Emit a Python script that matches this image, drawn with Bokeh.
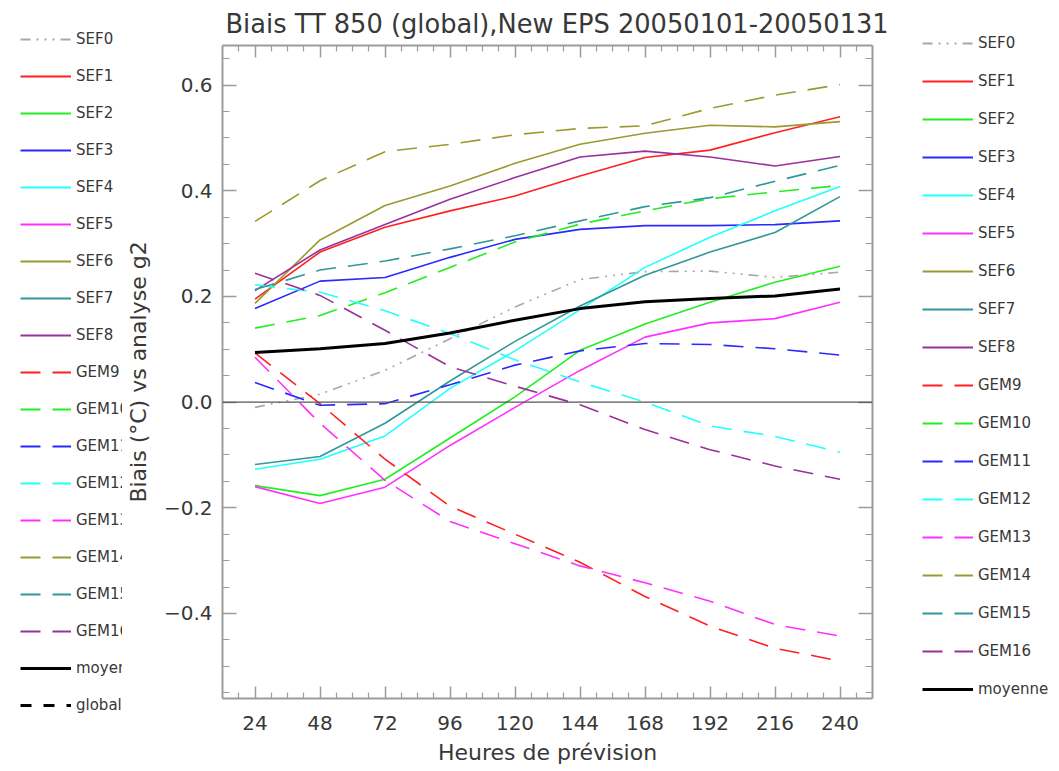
from bokeh.plotting import figure
from bokeh.layouts import row
from bokeh.models import (Range1d, LinearAxis, FixedTicker, Span, Legend, LegendItem,
                          CustomJSTickFormatter)
from bokeh.embed import file_html
from bokeh.resources import INLINE

# ---------------- data ----------------
hours = [24, 48, 72, 96, 120, 144, 168, 192, 216, 240]

sef0 = [-0.010, 0.015, 0.060, 0.120, 0.180, 0.232, 0.247, 0.248, 0.236, 0.246]
sef1 = [0.195, 0.284, 0.331, 0.362, 0.390, 0.428, 0.463, 0.477, 0.510, 0.540]
sef2 = [-0.158, -0.177, -0.146, -0.068, 0.010, 0.098, 0.148, 0.189, 0.227, 0.257]
sef3 = [0.177, 0.229, 0.236, 0.274, 0.308, 0.327, 0.334, 0.334, 0.336, 0.343]
sef4 = [-0.127, -0.108, -0.064, 0.026, 0.097, 0.175, 0.255, 0.312, 0.362, 0.408]
sef5 = [-0.160, -0.192, -0.161, -0.082, -0.010, 0.060, 0.123, 0.150, 0.158, 0.189]
sef6 = [0.187, 0.307, 0.372, 0.409, 0.452, 0.488, 0.509, 0.524, 0.521, 0.531]
sef7 = [-0.118, -0.103, -0.040, 0.040, 0.115, 0.182, 0.240, 0.284, 0.321, 0.389]
sef8 = [0.211, 0.288, 0.336, 0.384, 0.425, 0.464, 0.475, 0.464, 0.447, 0.465]
gem9 = [0.093, -0.003, -0.108, -0.197, -0.250, -0.303, -0.368, -0.424, -0.466, -0.490]
gem10 = [0.140, 0.164, 0.207, 0.255, 0.303, 0.337, 0.362, 0.385, 0.398, 0.410]
gem11 = [0.037, -0.006, -0.003, 0.033, 0.070, 0.097, 0.111, 0.109, 0.101, 0.089]
gem12 = [0.222, 0.208, 0.173, 0.130, 0.080, 0.038, 0.000, -0.045, -0.065, -0.095]
gem13 = [0.085, -0.040, -0.148, -0.226, -0.268, -0.310, -0.342, -0.377, -0.421, -0.443]
gem14 = [0.342, 0.419, 0.474, 0.488, 0.506, 0.518, 0.523, 0.556, 0.581, 0.601]
gem15 = [0.213, 0.250, 0.267, 0.290, 0.315, 0.343, 0.370, 0.387, 0.418, 0.448]
gem16 = [0.244, 0.202, 0.136, 0.067, 0.030, -0.005, -0.052, -0.090, -0.121, -0.146]
moyenne = [0.094, 0.101, 0.111, 0.131, 0.155, 0.177, 0.190, 0.196, 0.201, 0.214]

names = ["SEF0", "SEF1", "SEF2", "SEF3", "SEF4", "SEF5", "SEF6", "SEF7", "SEF8",
         "GEM9", "GEM10", "GEM11", "GEM12", "GEM13", "GEM14", "GEM15", "GEM16", "moyenne"]
values = [sef0, sef1, sef2, sef3, sef4, sef5, sef6, sef7, sef8,
          gem9, gem10, gem11, gem12, gem13, gem14, gem15, gem16, moyenne]

y_ticks = [-0.4, -0.2, 0.0, 0.2, 0.4, 0.6]
y_tick_labels = ["\u22120.4", "\u22120.2", "0.0", "0.2", "0.4", "0.6"]
y_minor = [-0.55, -0.5, -0.45, -0.35, -0.3, -0.25, -0.15, -0.1, -0.05, 0.05, 0.1, 0.15,
           0.25, 0.3, 0.35, 0.45, 0.5, 0.55, 0.65]
x_minor = [18, 30, 36, 42, 54, 60, 66, 78, 84, 90, 102, 108, 114, 126, 132, 138, 150, 156,
           162, 174, 180, 186, 198, 204, 210, 222, 228, 234, 246]

title_text = "Biais TT 850 (global),New EPS 20050101-20050131"
x_label = "Heures de prévision"
y_label = "Biais (°C) vs analyse g2"

# ---------------- styles ----------------
RED, GREEN, BLUE, CYAN = "#ff2020", "#22ee22", "#2a2aff", "#22ffff"
MAG, OLIVE, TEAL, PURPLE = "#ff30ff", "#9a9a30", "#309898", "#9a309a"
GRAY, BLACK = "#a8a8a8", "#000000"
colors = [GRAY, RED, GREEN, BLUE, CYAN, MAG, OLIVE, TEAL, PURPLE,
          RED, GREEN, BLUE, CYAN, MAG, OLIVE, TEAL, PURPLE, BLACK]
DDD = "10 6 2 6 2 6 2 6"
DASH = "20 12"
dashes = [DDD] + ["solid"] * 8 + [DASH] * 8 + ["solid"]
widths = [1.6] * 17 + [3]

FONT = "DejaVu Sans"
TXT = "#383838"
AX = "#9c9c9c"

# ---------------- main figure ----------------
p = figure(width=783, height=771, output_backend="svg", toolbar_location=None,
           x_range=Range1d(12, 252), y_range=Range1d(-0.561, 0.675),
           min_border_left=95, min_border_right=33, min_border_top=45, min_border_bottom=73)
p.grid.visible = False
p.outline_line_color = None
p.frame_align = False

xt = FixedTicker(ticks=hours, minor_ticks=x_minor)
yt = FixedTicker(ticks=y_ticks, minor_ticks=y_minor)


def style_axis(ax, major_in, minor_in, show_labels):
    ax.axis_line_color = AX
    ax.axis_line_width = 2
    ax.major_tick_line_color = AX
    ax.major_tick_line_width = 1.5
    ax.minor_tick_line_color = AX
    ax.minor_tick_line_width = 1.2
    ax.major_tick_in = major_in
    ax.major_tick_out = 0
    ax.minor_tick_in = minor_in
    ax.minor_tick_out = 0
    if show_labels:
        ax.major_label_text_font = FONT
        ax.major_label_text_font_size = "20px"
        ax.major_label_text_color = TXT
        ax.axis_label_text_font = FONT
        ax.axis_label_text_font_size = "22px"
        ax.axis_label_text_font_style = "normal"
        ax.axis_label_text_color = TXT
    else:
        ax.formatter = CustomJSTickFormatter(code="return '';")
        ax.major_label_text_font_size = "1px"
        ax.major_label_standoff = 0


xa = p.xaxis[0]
xa.ticker = xt
xa.axis_label = x_label
style_axis(xa, 12, 6, True)
xa.major_label_standoff = 17
xa.axis_label_standoff = 7

ya = p.yaxis[0]
ya.ticker = yt
ya.axis_label = y_label
ya.major_label_overrides = dict(zip(y_ticks, y_tick_labels))
style_axis(ya, 14, 7, True)
ya.major_label_standoff = 10
ya.axis_label_standoff = 10

top = LinearAxis(ticker=xt)
style_axis(top, 12, 6, False)
p.add_layout(top, "above")
right = LinearAxis(ticker=yt)
style_axis(right, 14, 7, False)
p.add_layout(right, "right")

p.title.text = title_text
p.title.align = "left"
p.title.text_font = FONT
p.title.text_font_size = "25.7px"
p.title.text_font_style = "normal"
p.title.text_color = TXT
p.title.offset = 3
p.title.standoff = 13

p.add_layout(Span(location=0, dimension="width", line_color="#555555", line_width=1.2))

for i in range(18):
    p.line(hours, values[i], line_color=colors[i], line_dash=dashes[i], line_width=widths[i])


# ---------------- legend columns ----------------
NAN = float("nan")


def legend_fig(width, labels, cols, dsh, lws, loc, spacing):
    f = figure(width=width, height=771, output_backend="svg", toolbar_location=None,
               x_axis_location=None, y_axis_location=None, min_border=0,
               x_range=Range1d(0, 1), y_range=Range1d(0, 1))
    f.outline_line_color = None
    f.grid.visible = False
    f.frame_align = False
    items = []
    for lab, c, d, w in zip(labels, cols, dsh, lws):
        r = f.line(x=[NAN, NAN], y=[NAN, NAN], line_color=c, line_dash=d, line_width=w)
        items.append(LegendItem(label=lab, renderers=[r]))
    leg = Legend(items=items, location=loc, padding=0, margin=0, spacing=spacing,
                 label_height=20, glyph_height=20, glyph_width=51, label_standoff=5,
                 border_line_color=None, background_fill_alpha=0,
                 label_text_font=FONT, label_text_font_size="15px", label_text_color=TXT)
    f.add_layout(leg)
    return f


leg_w = [2.2] * 17 + [3]
left_labels = names + ["global"]
left_cols = colors + [BLACK]
left_dash = [DDD] + ["solid"] * 8 + [DASH] * 8 + ["solid", "11 12"]
left_w = leg_w + [3]
left = legend_fig(122, left_labels, left_cols, left_dash, left_w, (20, 56), 17)
right_leg = legend_fig(154, names, colors, dashes, leg_w, (17, 72), 18)

layout = row(left, p, right_leg)
open("out.html", "w").write(file_html(layout, INLINE))
